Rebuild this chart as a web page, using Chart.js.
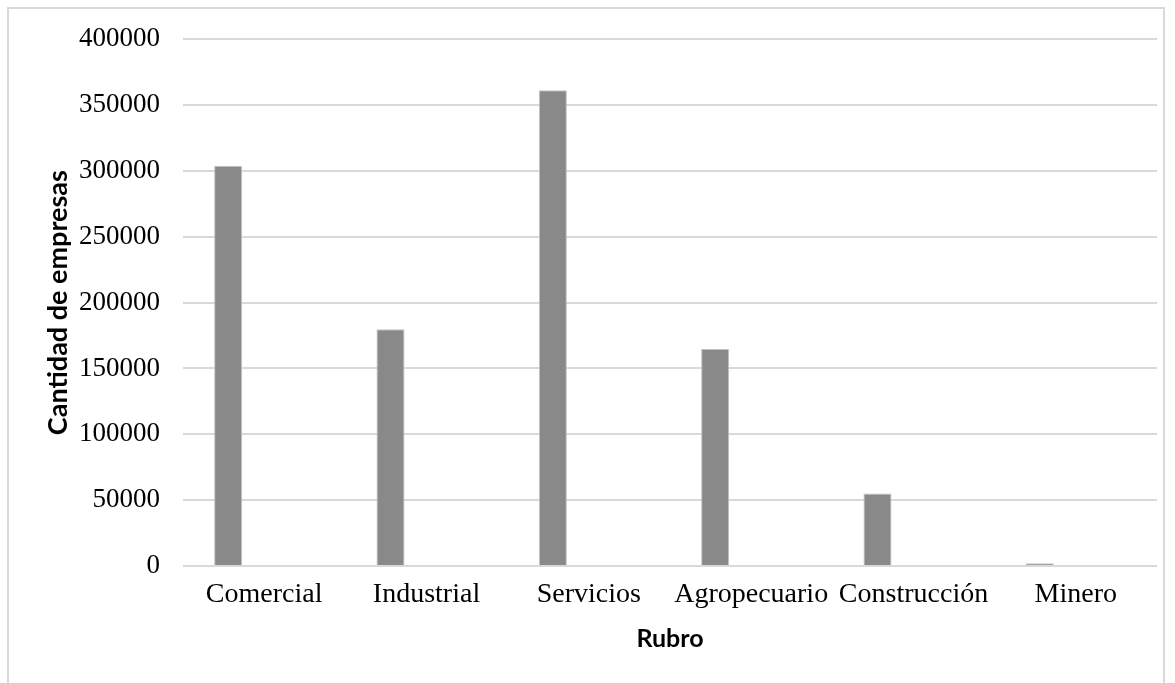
<!DOCTYPE html>
<html>
<head>
<meta charset="utf-8">
<script src="https://cdn.jsdelivr.net/npm/chart.js@4.4.1/dist/chart.umd.min.js"></script>
<style>
  html, body { margin: 0; padding: 0; background: #fff; }
  #wrap { position: relative; width: 1175px; height: 683px; overflow: hidden; }
  #frame { position: absolute; left: 7px; top: 7px; width: 1158px; height: 700px; border: 2px solid #d9d9d9; box-sizing: border-box; }
  canvas { position: absolute; left: 0; top: 0; }
</style>
</head>
<body>
<div id="wrap">
  <div id="frame"></div>
  <canvas id="rubroChart" width="1175" height="683"></canvas>
</div>
<script>
// Cantidad de empresas por rubro
const rubros = ['Comercial', 'Industrial', 'Servicios', 'Agropecuario', 'Construcción', 'Minero'];
const empresas = [304000, 179800, 361200, 164800, 55000, 2000];
const vacio = [0, 0, 0, 0, 0, 0];
const yTicks = [0, 50000, 100000, 150000, 200000, 250000, 300000, 350000, 400000];

const serif = "'Liberation Serif', 'Times New Roman', serif";
const sans = "Lato, 'Open Sans', sans-serif";

const ctx = document.getElementById('rubroChart').getContext('2d');

new Chart(ctx, {
    type: 'bar',
    data: {
        labels: rubros,
        datasets: [{
            label: 'Empresas',
            data: empresas,
            backgroundColor: '#898989',
            borderColor: '#c4c4c4',
            borderWidth: 1,
            categoryPercentage: 0.887,
            barPercentage: 0.39
        }, {
            label: '',
            data: vacio,
            backgroundColor: 'rgba(0,0,0,0)',
            borderWidth: 0,
            categoryPercentage: 0.887,
            barPercentage: 0.39
        }]
    },
    options: {
        responsive: false,
        animation: false,
        layout: {
            padding: { top: 37, right: 18, bottom: 0, left: 42 }
        },
        plugins: {
            legend: { display: false },
            tooltip: { enabled: false }
        },
        scales: {
            x: {
                grid: { display: false, drawTicks: false },
                border: { display: false },
                ticks: {
                    color: '#000',
                    padding: 12,
                    font: { family: serif, size: 28 }
                },
                title: {
                    display: true,
                    text: 'Rubro',
                    color: '#000',
                    font: { family: sans, size: 25, weight: 'bold' },
                    padding: { top: 0, bottom: 29 }
                },
                afterFit: function(scale) { scale.height = 683 - 566; }
            },
            y: {
                min: 0,
                max: 400000,
                afterBuildTicks: function(scale) {
                    scale.ticks = yTicks.map(v => ({ value: v }));
                },
                grid: { color: '#d9d9d9', lineWidth: 2, drawTicks: false },
                border: { display: false },
                ticks: {
                    color: '#000',
                    padding: 23,
                    font: { family: serif, size: 27 },
                    callback: function(value) { return String(value); }
                },
                title: {
                    display: true,
                    text: 'Cantidad de empresas',
                    color: '#000',
                    font: { family: sans, size: 27, weight: 'bold' },
                    padding: { top: 0, bottom: 0 }
                },
                afterFit: function(scale) { scale.width = 183 - 42; }
            }
        }
    }
});
</script>
</body>
</html>
